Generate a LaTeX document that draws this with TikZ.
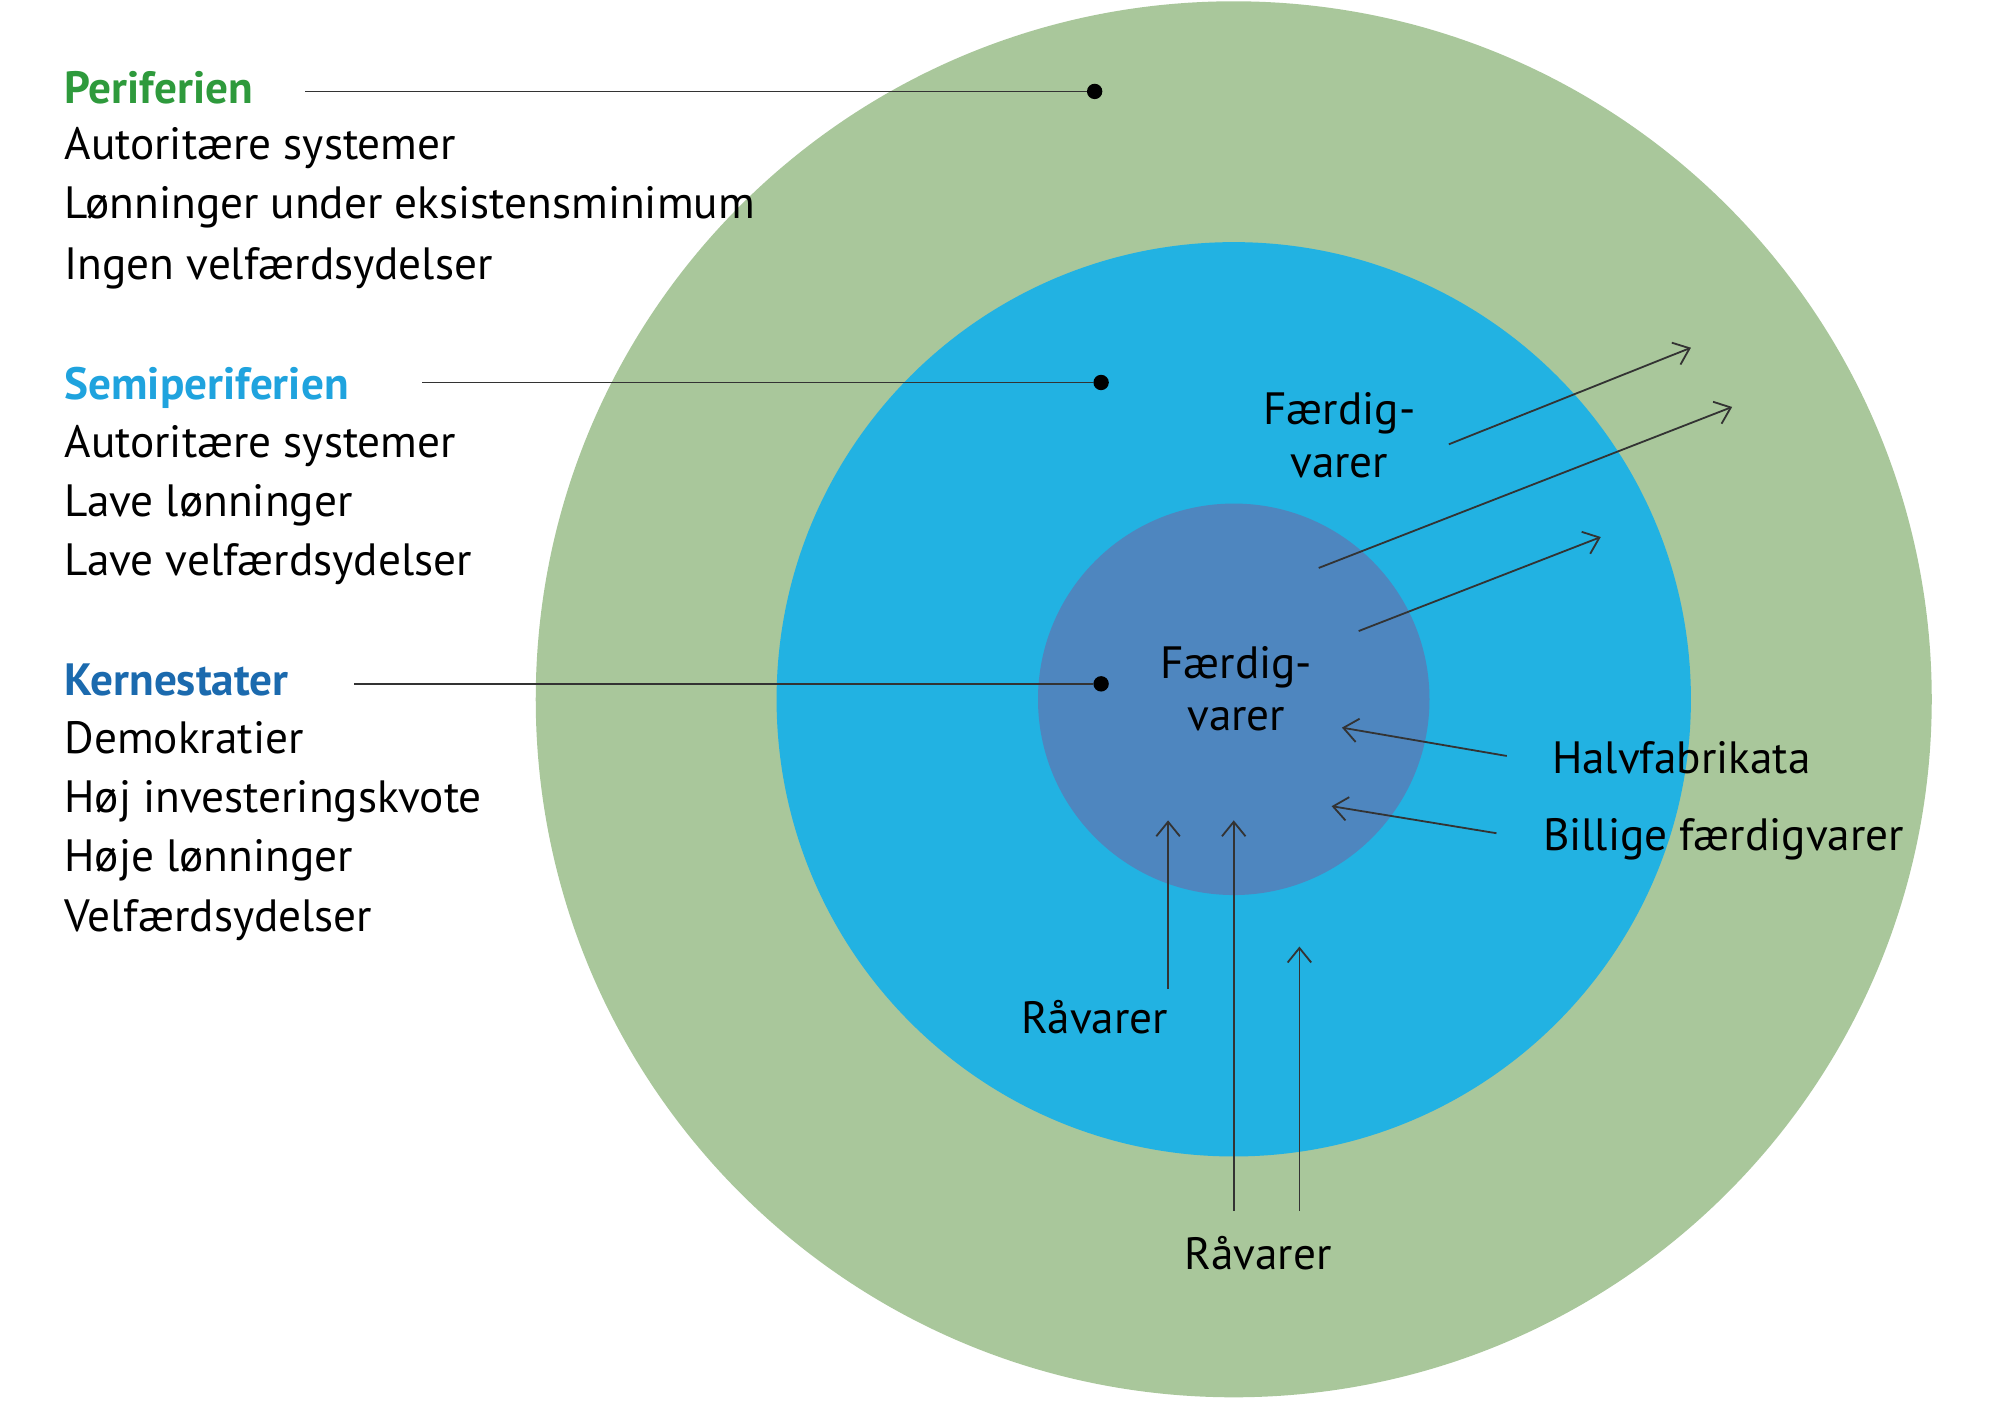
\documentclass[tikz,border=0pt]{standalone}
\usepackage{fontspec}
\setmainfont{PT Sans}
\usetikzlibrary{arrows.meta}
\definecolor{gOut}{HTML}{A9C79B}
\definecolor{bMid}{HTML}{22B2E2}
\definecolor{bIn}{HTML}{4E86BF}
\definecolor{tGreen}{HTML}{2E9A3C}
\definecolor{tBlue}{HTML}{1FA3DE}
\definecolor{tDark}{HTML}{1B6AAE}
\definecolor{ln}{HTML}{333333}
\begin{document}
\begin{tikzpicture}[x=0.05cm,y=-0.05cm,
  txt/.style={font=\fontsize{50}{58}\selectfont,text=black,inner sep=0},
  hd/.style={txt,font=\fontsize{50}{58}\selectfont\bfseries},
  lead/.style={ln,line width=2pt},
  dot/.style={circle,fill=black,minimum size=17pt,inner sep=0},
  arr/.style={ln,line width=2pt,-{Straight Barb[length=16pt,width=26pt,line width=2pt]}}]
\useasboundingbox (0,0) rectangle (1553,1106);
\fill[gOut] (958,543) circle[radius=542];
\fill[bMid] (958,543) circle[radius=355];
\fill[bIn] (958,543) circle[radius=152];
% left texts
\node[hd,text=tGreen,anchor=base west] (p) at (50,80) {Periferien};
\node[txt,anchor=base west] at (50,124) {Autoritære systemer};
\node[txt,anchor=base west] at (50,170) {Lønninger under eksistensminimum};
\node[txt,anchor=base west] at (50,217) {Ingen velfærdsydelser};
\node[hd,text=tBlue,anchor=base west] (s) at (50,310) {Semiperiferien};
\node[txt,anchor=base west] at (50,355) {Autoritære systemer};
\node[txt,anchor=base west] at (50,401) {Lave lønninger};
\node[txt,anchor=base west] at (50,447) {Lave velfærdsydelser};
\node[hd,text=tDark,anchor=base west] (k) at (50,540) {Kernestater};
\node[txt,anchor=base west] at (50,585) {Demokratier};
\node[txt,anchor=base west] at (50,631) {Høj investeringskvote};
\node[txt,anchor=base west] at (50,677) {Høje lønninger};
\node[txt,anchor=base west] at (50,723) {Velfærdsydelser};
\node[dot] (dp) at (850,71) {};
\node[dot] (ds) at (855,297) {};
\node[dot] (dk) at (855,531) {};
\coordinate (lp) at (237,71);
\coordinate (ls) at (328,297);
\coordinate (lk) at (275,531);
\draw[lead] (lp) -- (dp);
\draw[lead] (ls) -- (ds);
\draw[lead] (lk) -- (dk);
% labels
\node[txt,align=center] (f1) at (1040,338) {Færdig-\\varer};
\node[txt,align=center] (f2) at (960,535) {Færdig-\\varer};
\node[txt,anchor=west] (h) at (1205,588) {Halvfabrikata};
\node[txt,anchor=west] (b) at (1198,652) {Billige færdigvarer};
\node[txt] (r1) at (850,790) {Råvarer};
\node[txt] (r2) at (977,973) {Råvarer};
% arrows
\coordinate (a1s) at (1125,345); \coordinate (a1e) at (1313,270);
\coordinate (a2s) at (1024,441); \coordinate (a2e) at (1345,316);
\coordinate (a3s) at (1055,490); \coordinate (a3e) at (1243,417);
\coordinate (hs) at (1170,587); \coordinate (he) at (1042,565);
\coordinate (bs) at (1162,647); \coordinate (be) at (1034,626);
\coordinate (v1s) at (907,768); \coordinate (v1e) at (907,637);
\coordinate (v2s) at (958,940); \coordinate (v2e) at (958,637);
\coordinate (v3s) at (1009,940); \coordinate (v3e) at (1009,735);
\draw[arr] (a1s) -- (a1e);
\draw[arr] (a2s) -- (a2e);
\draw[arr] (a3s) -- (a3e);
\draw[arr] (hs) -- (he);
\draw[arr] (bs) -- (be);
\draw[arr] (v1s) -- (v1e);
\draw[arr] (v2s) -- (v2e);
\draw[arr] (v3s) -- (v3e);
\end{tikzpicture}
\end{document}
